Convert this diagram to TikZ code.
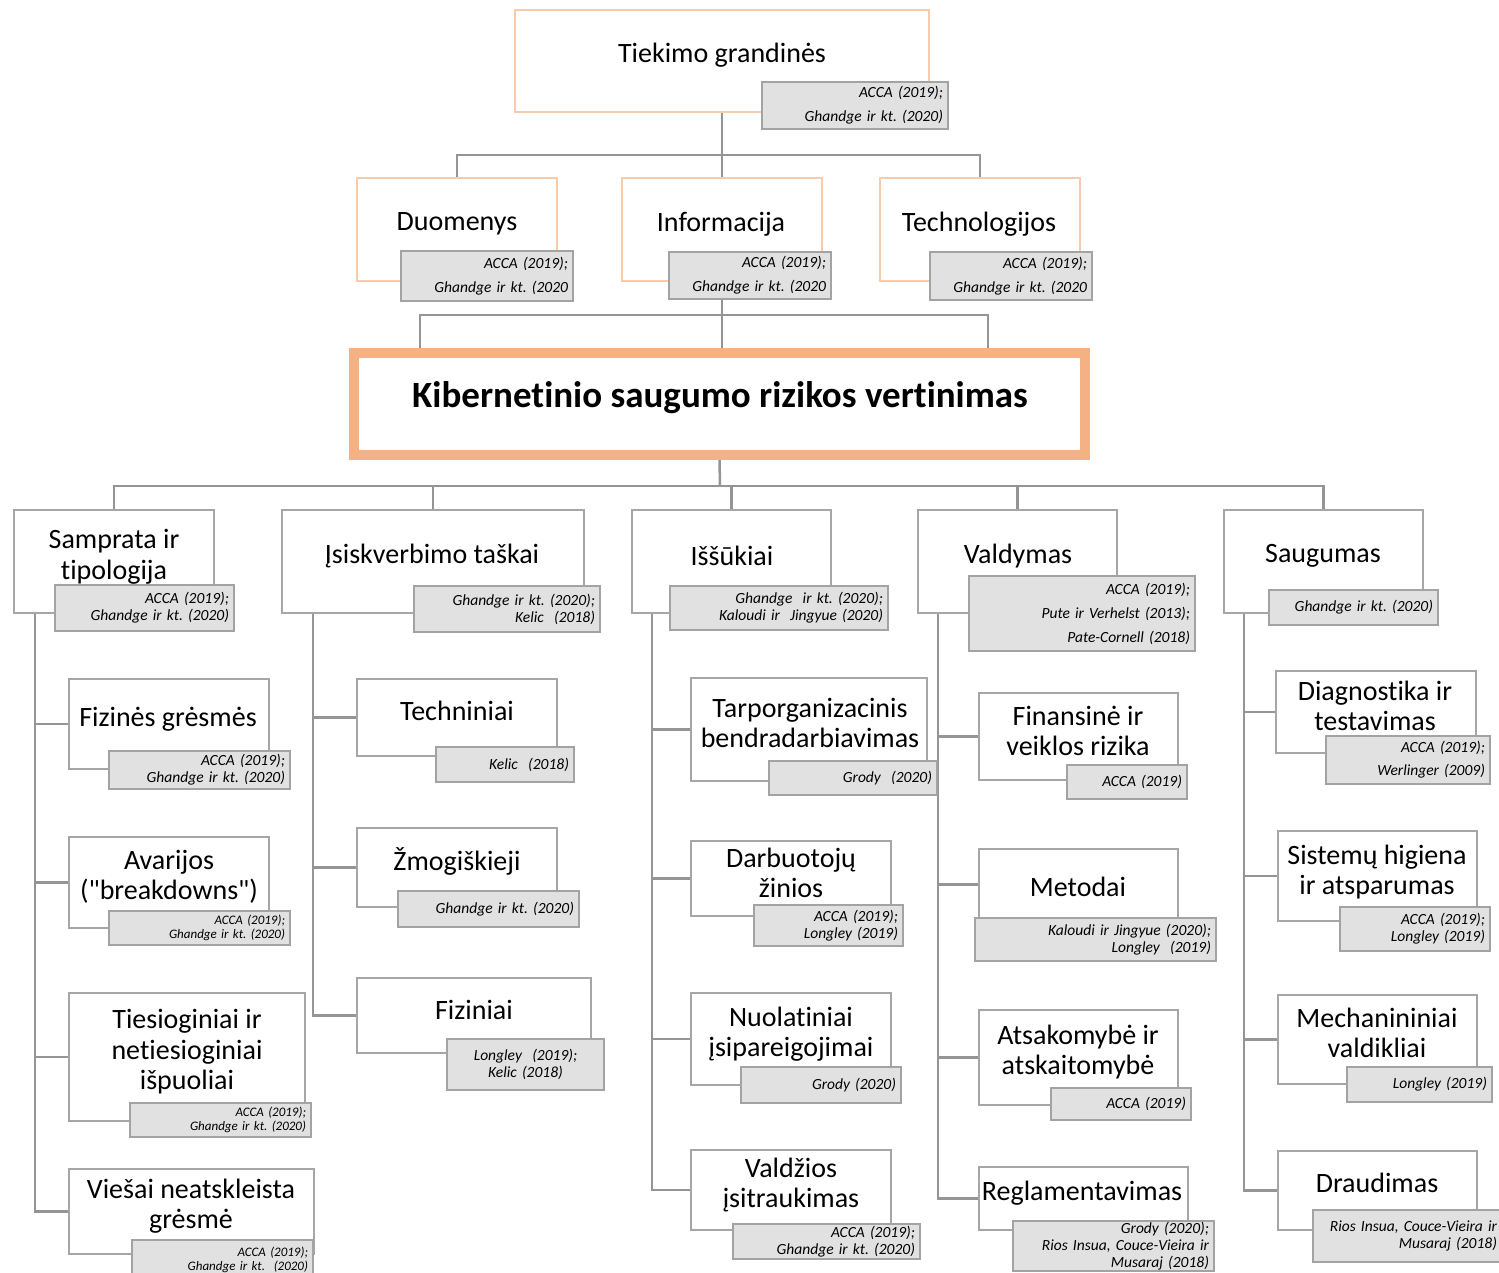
\documentclass[tikz,border=0pt]{standalone}
\usepackage{fontspec}
\setmainfont{Carlito}[Ligatures={CommonOff,TeXOff}]
\usepackage{tikz}
\usetikzlibrary{positioning,backgrounds}
\usepackage{xcolor}
\definecolor{peach}{HTML}{F8CBAD}
\definecolor{salmon}{HTML}{F4B183}
\definecolor{linegray}{HTML}{959595}
\definecolor{framegray}{HTML}{A6A6A6}
\definecolor{citefill}{HTML}{E1E1E1}
\definecolor{citeframe}{HTML}{A3A3A3}
\frenchspacing
\tikzset{
  link/.style={draw=linegray, line width=2.5pt},
  hdbox/.style 2 args={draw=peach, line width=2pt, fill=white, inner sep=0pt,
    minimum width=#1, minimum height=#2},
  riskbox/.style 2 args={draw=salmon, line width=10pt, fill=white, inner sep=0pt,
    minimum width=#1, minimum height=#2},
  catbox/.style 2 args={draw=framegray, line width=2.5pt, fill=white, inner sep=0pt,
    minimum width=#1, minimum height=#2},
  src/.style 2 args={draw=citeframe, line width=2.5pt, fill=citefill,
    inner xsep=5pt, inner ysep=0pt, minimum width=#1, minimum height=#2,
    text width=#1-10, align=right, font=\fontsize{15.5}{17}\selectfont\itshape},
  srcwide/.style={font=\fontsize{15.5}{24}\selectfont\itshape},
  srcsmall/.style={font=\fontsize{13}{14.5}\selectfont\itshape},
  lbl/.style={inner sep=0pt, align=center, font=\fontsize{28}{30.5}\selectfont},
}
\begin{document}
\begin{tikzpicture}[x=1pt,y=-1pt]
  \useasboundingbox (0,0) rectangle (1499,1273);

  % supply chain row
  \node[hdbox={414}{102}] (tiek) at (722,61) {};
  \node[lbl] (tiek-t) at (722,55) {Tiekimo grandinės};
  \node[src={186}{47},srcwide] (tiek-s) at (855,105.5) {ACCA (2019);\\Ghandge ir kt. (2020)};

  \node[hdbox={200}{103}] (duom) at (457,229.5) {};
  \node[lbl] (duom-t) at (457,224) {Duomenys};
  \node[src={172}{50},srcwide] (duom-s) at (487,276) {ACCA (2019);\\Ghandge ir kt. (2020};

  \node[hdbox={200}{103}] (info) at (722,229.5) {};
  \node[lbl] (info-t) at (721,224) {Informacija};
  \node[src={162}{47},srcwide] (info-s) at (750,275.5) {ACCA (2019);\\Ghandge ir kt. (2020};

  \node[hdbox={200}{103}] (tech) at (980,229.5) {};
  \node[lbl] (tech-t) at (979,224) {Technologijos};
  \node[src={162}{48},srcwide] (tech-s) at (1011,276) {ACCA (2019);\\Ghandge ir kt. (2020};

  % central box
  \node[riskbox={731}{102}] (kib) at (719.5,404) {};
  \node[lbl,font=\fontsize{37}{40}\selectfont\bfseries] (kib-t) at (720,398)
    {Kibernetinio saugumo rizikos vertinimas};

  % categories
  \node[catbox={200}{103}] (samp) at (114,561.5) {};
  \node[lbl] (samp-t) at (114,557) {Samprata ir\\tipologija};
  \node[src={179}{46}] (samp-s) at (144.5,608) {ACCA (2019);\\Ghandge ir kt. (2020)};

  \node[catbox={302}{103}] (isis) at (433,561.5) {};
  \node[lbl] (isis-t) at (432,556) {Įsiskverbimo taškai};
  \node[src={186}{46}] (isis-s) at (507,609) {Ghandge ir kt. (2020);\\Kelic\ \ (2018)};

  \node[catbox={199}{103}] (issu) at (731.5,561.5) {};
  \node[lbl] (issu-t) at (732,556) {Iššūkiai};
  \node[src={218}{44}] (issu-s) at (779,608) {Ghandge\ \ ir kt. (2020);\\Kaloudi ir\ \ Jingyue (2020)};

  \node[catbox={199}{103}] (vald) at (1017.5,561.5) {};
  \node[lbl] (vald-t) at (1018,556) {Valdymas};
  \node[src={226}{75},srcwide] (vald-s) at (1082,613.5)
    {ACCA (2019);\\Pute ir Verhelst (2013);\\Pate-Cornell (2018)};

  \node[catbox={199}{103}] (saug) at (1323.5,561.5) {};
  \node[lbl] (saug-t) at (1323,556) {Saugumas};
  \node[src={169}{35}] (saug-s) at (1353.5,607.5) {Ghandge ir kt. (2020)};

  % Samprata ir tipologija
  \node[catbox={200}{90}] (fizg) at (169,724) {};
  \node[lbl] (fizg-t) at (168,719) {Fizinės grėsmės};
  \node[src={181}{38}] (fizg-s) at (199.5,770) {ACCA (2019);\\Ghandge ir kt. (2020)};

  \node[catbox={200}{91}] (avar) at (169,882.5) {};
  \node[lbl] (avar-t) at (169,877) {Avarijos\\("breakdowns")};
  \node[src={181}{34},srcsmall] (avar-s) at (199.5,928) {ACCA (2019);\\Ghandge ir kt. (2020)};

  \node[catbox={236}{128}] (ties) at (187,1057) {};
  \node[lbl] (ties-t) at (187,1052) {Tiesioginiai ir\\netiesioginiai\\išpuoliai};
  \node[src={181}{34},srcsmall] (ties-s) at (220.5,1120) {ACCA (2019);\\Ghandge ir kt. (2020)};

  \node[catbox={245}{85}] (vies) at (191.5,1211.5) {};
  \node[lbl] (vies-t) at (191,1206) {Viešai neatskleista\\grėsmė};
  \node[src={181}{40},srcsmall] (vies-s) at (222.5,1260) {ACCA (2019);\\Ghandge ir kt.\ \ (2020)};

  % Isiskverbimo taskai
  \node[catbox={200}{77}] (techn) at (457,717.5) {};
  \node[lbl] (techn-t) at (457,711) {Techniniai};
  \node[src={138}{35}] (techn-s) at (505,764.5) {Kelic\ \ (2018)};

  \node[catbox={200}{79}] (zmog) at (457,867.5) {};
  \node[lbl] (zmog-t) at (457,861) {Žmogiškieji};
  \node[src={181}{36}] (zmog-s) at (488.5,909) {Ghandge ir kt. (2020)};

  \node[catbox={234}{75}] (fizi) at (474,1015.5) {};
  \node[lbl] (fizi-t) at (474,1010) {Fiziniai};
  \node[src={157}{51},align=center] (fizi-s) at (525.5,1064.5) {Longley\ \ (2019);\\Kelic (2018)};

  % Issukiai
  \node[catbox={236}{103}] (tarp) at (809,729.5) {};
  \node[lbl] (tarp-t) at (810,723) {Tarporganizacinis\\bendradarbiavimas};
  \node[src={168}{34}] (tarp-s) at (853,778) {Grody\ \ (2020)};

  \node[catbox={200}{75}] (darb) at (791,878.5) {};
  \node[lbl] (darb-t) at (791,873) {Darbuotojų\\žinios};
  \node[src={149}{41}] (darb-s) at (828.5,925.5) {ACCA (2019);\\Longley (2019)};

  \node[catbox={200}{92}] (nuol) at (791,1039) {};
  \node[lbl] (nuol-t) at (791,1034) {Nuolatiniai\\įsipareigojimai};
  \node[src={160}{36}] (nuol-s) at (821,1085) {Grody (2020)};

  \node[catbox={200}{80}] (valdz) at (791,1190) {};
  \node[lbl] (valdz-t) at (791,1185) {Valdžios\\įsitraukimas};
  \node[src={187}{35}] (valdz-s) at (826.5,1241.5) {ACCA (2019);\\Ghandge ir kt. (2020)};

  % Valdymas
  \node[catbox={199}{87}] (fin) at (1078.5,736.5) {};
  \node[lbl] (fin-t) at (1078,731) {Finansinė ir\\veiklos rizika};
  \node[src={120}{34}] (fin-s) at (1127,782) {ACCA (2019)};

  \node[catbox={199}{71}] (meto) at (1078.5,884.5) {};
  \node[lbl] (meto-t) at (1078,887) {Metodai};
  \node[src={241}{43}] (meto-s) at (1095.5,939.5) {Kaloudi ir Jingyue (2020);\\Longley\ \ (2019)};

  \node[catbox={199}{95}] (atsa) at (1078.5,1057.5) {};
  \node[lbl] (atsa-t) at (1078,1052) {Atsakomybė ir\\atskaitomybė};
  \node[src={140}{32}] (atsa-s) at (1121,1104) {ACCA (2019)};

  \node[catbox={209}{63}] (regl) at (1083.5,1198.5) {};
  \node[lbl] (regl-t) at (1082,1193) {Reglamentavimas};
  \node[src={201}{50}] (regl-s) at (1113.5,1246)
    {Grody (2020);\\Rios Insua, Couce-Vieira ir\\Musaraj (2018)};

  % Saugumas
  \node[catbox={200}{82}] (diag) at (1376,712) {};
  \node[lbl] (diag-t) at (1375,706) {Diagnostika ir\\testavimas};
  \node[src={164}{48},font=\fontsize{15.5}{23}\selectfont\itshape] (diag-s) at (1408,760)
    {ACCA (2019);\\Werlinger (2009)};

  \node[catbox={199}{90}] (sist) at (1377.5,876) {};
  \node[lbl] (sist-t) at (1377,872) {Sistemų higiena\\ir atsparumas};
  \node[src={150}{44}] (sist-s) at (1415,929) {ACCA (2019);\\Longley (2019)};

  \node[catbox={199}{89}] (mech) at (1377.5,1039.5) {};
  \node[lbl] (mech-t) at (1377,1033) {Mechanininiai\\valdikliai};
  \node[src={145}{35}] (mech-s) at (1419.5,1084.5) {Longley (2019)};

  \node[catbox={199}{79}] (drau) at (1377.5,1190.5) {};
  \node[lbl] (drau-t) at (1377,1183) {Draudimas};
  \node[src={189}{52}] (drau-s) at (1407.5,1236) {Rios Insua, Couce-Vieira ir\\Musaraj (2018)};

  % connectors
  \coordinate (topbus) at (722,155);
  \coordinate (barL) at (420,315);
  \coordinate (barR) at (988,315);
  \coordinate (bus) at (720,486);
  \coordinate (samp-b) at (35,613);
  \coordinate (isis-b) at (313,613);
  \coordinate (issu-b) at (652,613);
  \coordinate (vald-b) at (938,613);
  \coordinate (saug-b) at (1244,613);
  \begin{scope}[on background layer]
    \draw[link] (tiek.south) -- (info.north);
    \draw[link] (duom.north) |- (topbus) -| (tech.north);
    \draw[link] (info-s.south -| info.south) -- (info.south |- kib.north);
    \draw[link] (barL |- kib.north) -- (barL) -- (barR) -- (barR |- kib.north);
    \draw[link] (kib.south) -- (bus);
    \draw[link] (samp.north) |- (bus) -| (saug.north);
    \foreach \n in {isis,issu,vald}
      \draw[link] (\n.north) -- (\n.north |- bus);
    \draw[link] (samp-b) |- (vies.west);% one trunk for each category
    \foreach \n in {fizg,avar,ties}
      \draw[link] (\n.west) -- (\n.west -| samp-b);
    \draw[link] (isis-b) |- (fizi.west);
    \foreach \n in {techn,zmog}
      \draw[link] (\n.west) -- (\n.west -| isis-b);
    \draw[link] (issu-b) |- (valdz.west);
    \foreach \n in {tarp,darb,nuol}
      \draw[link] (\n.west) -- (\n.west -| issu-b);
    \draw[link] (vald-b) |- (regl.west);
    \foreach \n in {fin,meto,atsa}
      \draw[link] (\n.west) -- (\n.west -| vald-b);
    \draw[link] (saug-b) |- (drau.west);
    \foreach \n in {diag,sist,mech}
      \draw[link] (\n.west) -- (\n.west -| saug-b);
  \end{scope}
\end{tikzpicture}
\end{document}
